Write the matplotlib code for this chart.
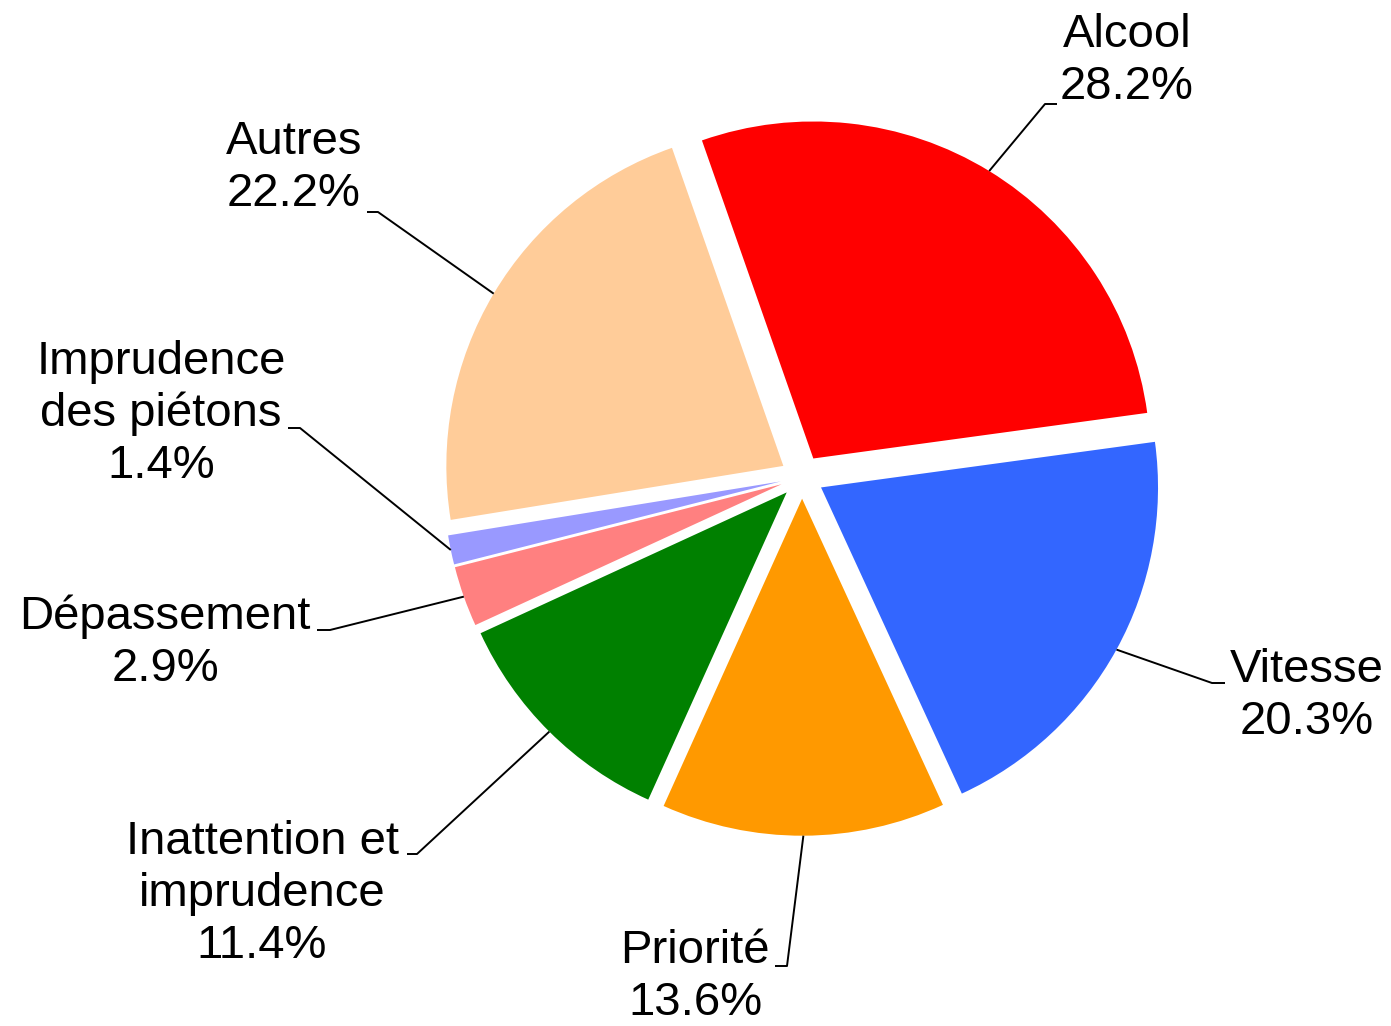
import numpy as np
import matplotlib.pyplot as plt

plt.rcParams['font.family'] = ['Liberation Sans', 'DejaVu Sans']

labels = ['Alcool', 'Vitesse', 'Priorité', 'Inattention et\nimprudence',
          'Dépassement', 'Imprudence\ndes piétons', 'Autres']
values = [28.2, 20.3, 13.6, 11.4, 2.9, 1.4, 22.2]
colors = ['#FF0000', '#3366FF', '#FF9900', '#008000', '#FF8080', '#9999FF', '#FFCC99']

H = 1026
# label layout (pixel coords, y from top): text centre, elbow, end of short tick
text_pos = [(1127, 61), (1307, 696), (695, 977), (262, 894), (165, 643), (161, 414), (294, 168)]
elbows = [(1045, 104), (1212, 683), (787, 966), (417, 854), (330, 630), (300, 428), (378, 212)]
ticks = [(1057, 104), (1225, 683), (775, 966), (407, 854), (317, 630), (288, 428), (367, 212)]

fig = plt.figure(figsize=(13.91, 10.26), dpi=100)
ax = fig.add_axes([0, 0, 1, 1])

wedges, _ = ax.pie(values, colors=colors, startangle=109.3, counterclock=False,
                   explode=[21.7] * len(values), radius=337, center=(802, H - 477))
ax.set_xlim(0, 1391)
ax.set_ylim(0, H)
ax.axis('off')

for w, lab, v, tp, el, tk in zip(wedges, labels, values, text_pos, elbows, ticks):
    m = np.deg2rad((w.theta1 + w.theta2) / 2)
    cx, cy = w.center
    ax_pt = (cx + w.r * np.cos(m), cy + w.r * np.sin(m))
    ax.plot([ax_pt[0], el[0], tk[0]], [ax_pt[1], H - el[1], H - tk[1]],
            color='black', lw=1.4, solid_capstyle='butt')
    ax.text(tp[0], H - tp[1], f'{lab}\n{v:.1f}%', ha='center', va='center',
            fontsize=34, linespacing=1.24)

plt.savefig('out.png', dpi=100)
